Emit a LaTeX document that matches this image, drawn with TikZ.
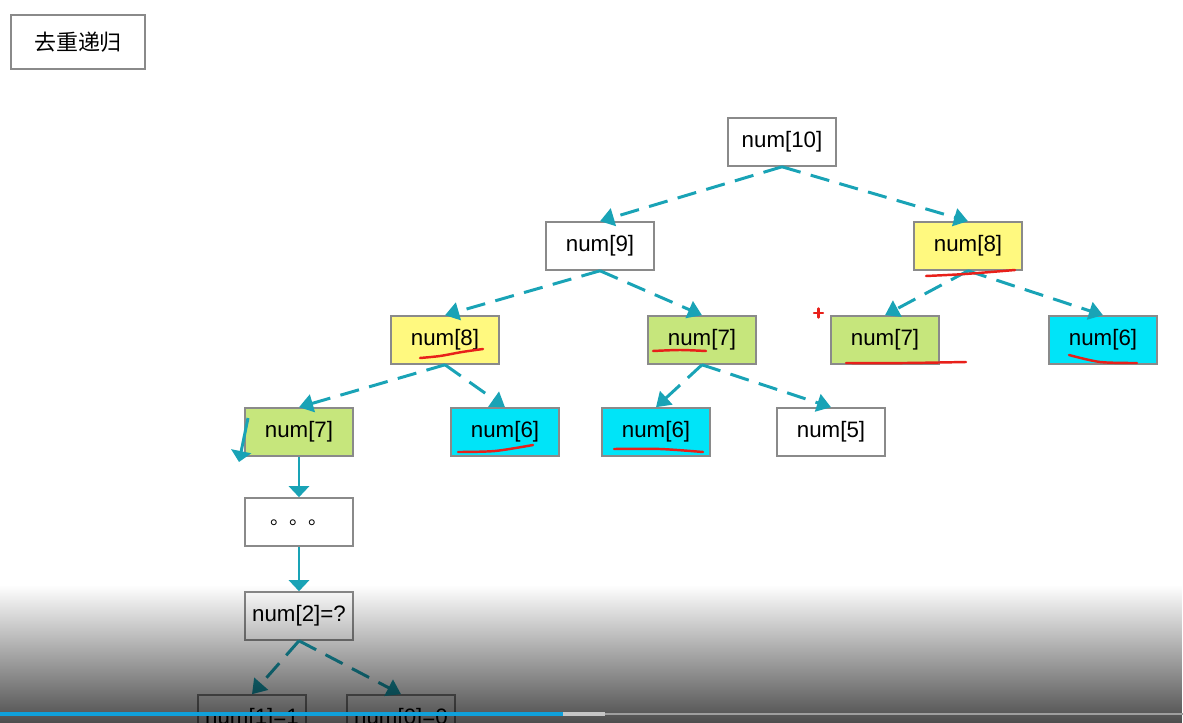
\documentclass[tikz,border=0pt]{standalone}
\usepackage{fontspec}
\setmainfont{Liberation Sans}
\newfontfamily\cjk{Noto Sans CJK SC}
\usetikzlibrary{arrows.meta,fadings}
\definecolor{flow}{HTML}{19A3B6}
\definecolor{edge}{HTML}{8A8A8A}
\definecolor{hotc}{HTML}{FFF97F}
\definecolor{warmc}{HTML}{C6E67C}
\definecolor{coldc}{HTML}{00E4F8}
\definecolor{penc}{HTML}{E8201A}
\definecolor{barc}{HTML}{0FA0DA}
\tikzfading[name=playerfade, top color=transparent!100, middle color=transparent!86, bottom color=transparent!30]
\tikzset{
  cell/.style={draw=edge, fill=white, line width=0.9pt, minimum width=2.16cm, minimum height=0.96cm,
               inner sep=0pt, font=\fontsize{12.7}{14}\selectfont},
  hot/.style={cell, fill=hotc},
  warm/.style={cell, fill=warmc},
  cold/.style={cell, fill=coldc},
  link/.style={-{Triangle[length=2.8mm,width=3.6mm]}, draw=flow, line width=1.7pt, dash pattern=on 11pt off 6pt},
  pipe/.style={-{Triangle[length=2.2mm,width=4mm]}, draw=flow, line width=1.7pt},
  pen/.style={draw=penc, line width=1.4pt, line cap=round},
}

\begin{document}
\begin{tikzpicture}[x=0.02cm, y=-0.02cm]
  \useasboundingbox (0,0) rectangle (1183,723);
  \clip (0,0) rectangle (1183,723);
  \node[cell, minimum width=2.68cm, minimum height=1.08cm, font=\cjk\fontsize{12.5}{14}\selectfont] (title) at (78,42) {去重递归};
  % the call tree
  \node[cell] (n10) at (782,142) {num[10]};
  \node[cell] (n9)  at (600,246) {num[9]};
  \node[hot]  (r8)  at (968,246) {num[8]};
  \node[hot]  (a8)  at (445,340) {num[8]};
  \node[warm] (b7)  at (702,340) {num[7]};
  \node[warm] (r7)  at (885,340) {num[7]};
  \node[cold] (r6)  at (1103,340) {num[6]};
  \node[warm] (a7)  at (299,432) {num[7]};
  \node[cold] (a6)  at (505,432) {num[6]};
  \node[cold] (b6)  at (656,432) {num[6]};
  \node[cell] (b5)  at (831,432) {num[5]};
  \node[cell, font=\cjk\fontsize{11}{14}\selectfont, text depth=-3pt] (dots) at (299,522) {。。。};
  \node[cell] (q2)  at (299,616) {num[2]=?};
  \node[cell] (q1)  at (252,719) {num[1]=1};
  \node[cell] (q0)  at (401,719) {num[0]=0};
  \foreach \p/\c in {n10/n9, n10/r8, n9/a8, n9/b7, r8/r7, r8/r6, a8/a7, a8/a6, b7/b6, b7/b5, q2/q1, q2/q0}
    \draw[link] (\p.south) -- (\c.north);
  \draw[pipe] (a7) -- (dots);
  \draw[pipe] (dots) -- (q2);
  \coordinate (s1) at (248,418);
  \coordinate (s2) at (239,462);
  \draw[pipe] (s1) -- (s2);
  % red pen marks
  \draw[pen] plot[smooth] coordinates {(926,276) (965,274) (1015,270)};
  \draw[pen] plot[smooth] coordinates {(420,358) (440,356) (462,352) (483,349)};
  \draw[pen] plot[smooth] coordinates {(653,351) (680,350) (706,351)};
  \draw[pen] plot[smooth] coordinates {(846,363) (905,363) (966,362)};
  \draw[pen] plot[smooth] coordinates {(1069,355) (1100,362) (1137,363)};
  \draw[pen] plot[smooth] coordinates {(458,452) (495,451) (533,445)};
  \draw[pen] plot[smooth] coordinates {(614,449) (660,449) (703,452)};
  \draw[pen] (814,313) -- (823,313) (818.5,308.5) -- (818.5,317.5);
  % player overlay
  \fill[black, path fading=playerfade] (0,585) rectangle (1183,723);
  \fill[gray!75] (0,713) rectangle (1183,715);
  \fill[gray!45] (563,712) rectangle (605,716);
  \fill[barc] (0,712) rectangle (563,716);
\end{tikzpicture}
\end{document}
